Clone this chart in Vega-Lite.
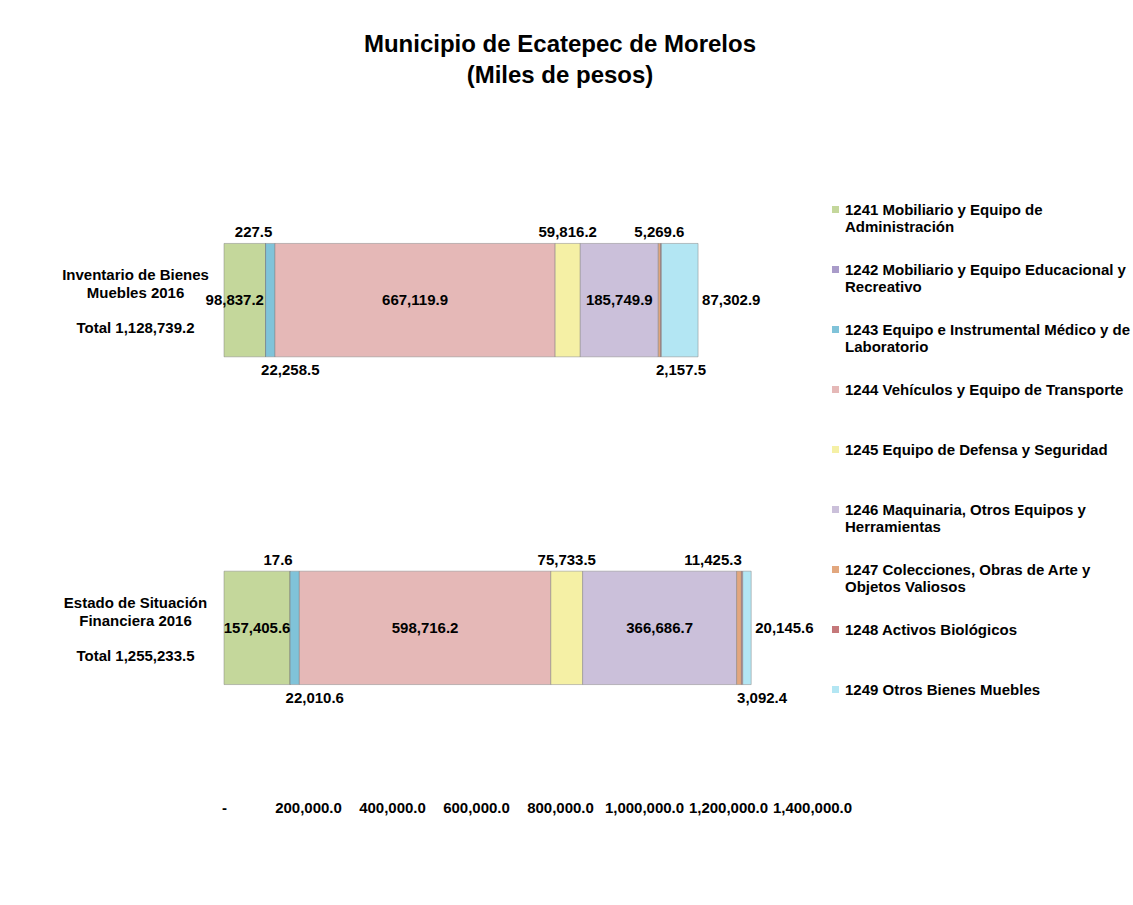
{
  "$schema": "https://vega.github.io/schema/vega-lite/v6.json",
  "width": 588,
  "height": 652,
  "autosize": {"type": "none"},
  "padding": {"left": 224, "top": 138, "right": 321, "bottom": 115},
  "background": "white",
  "title": {
    "text": ["Municipio de Ecatepec de Morelos", "(Miles de pesos)"],
    "fontSize": 24, "fontWeight": "bold", "font": "Liberation Sans", "lineHeight": 31,
    "anchor": "middle", "frame": "group", "dx": 42, "offset": 50, "color": "#000000"
  },
  "data": {
    "values": [
      {"barra": "Inventario de Bienes|Muebles 2016|\u200b|Total 1,128,739.2", "codigo": "1241", "categoria": "1241 Mobiliario y Equipo de|Administración", "valor": 98837.2},
      {"barra": "Inventario de Bienes|Muebles 2016|\u200b|Total 1,128,739.2", "codigo": "1242", "categoria": "1242 Mobiliario y Equipo Educacional y|Recreativo", "valor": 227.5},
      {"barra": "Inventario de Bienes|Muebles 2016|\u200b|Total 1,128,739.2", "codigo": "1243", "categoria": "1243 Equipo e Instrumental Médico y de|Laboratorio", "valor": 22258.5},
      {"barra": "Inventario de Bienes|Muebles 2016|\u200b|Total 1,128,739.2", "codigo": "1244", "categoria": "1244 Vehículos y Equipo de Transporte|", "valor": 667119.9},
      {"barra": "Inventario de Bienes|Muebles 2016|\u200b|Total 1,128,739.2", "codigo": "1245", "categoria": "1245 Equipo de Defensa y Seguridad|", "valor": 59816.2},
      {"barra": "Inventario de Bienes|Muebles 2016|\u200b|Total 1,128,739.2", "codigo": "1246", "categoria": "1246 Maquinaria, Otros Equipos y|Herramientas", "valor": 185749.9},
      {"barra": "Inventario de Bienes|Muebles 2016|\u200b|Total 1,128,739.2", "codigo": "1247", "categoria": "1247 Colecciones, Obras de Arte y|Objetos Valiosos", "valor": 5269.6},
      {"barra": "Inventario de Bienes|Muebles 2016|\u200b|Total 1,128,739.2", "codigo": "1248", "categoria": "1248 Activos Biológicos|", "valor": 2157.5},
      {"barra": "Inventario de Bienes|Muebles 2016|\u200b|Total 1,128,739.2", "codigo": "1249", "categoria": "1249 Otros Bienes Muebles|", "valor": 87302.9},
      {"barra": "Estado de Situación|Financiera 2016|\u200b|Total  1,255,233.5", "codigo": "1241", "categoria": "1241 Mobiliario y Equipo de|Administración", "valor": 157405.6},
      {"barra": "Estado de Situación|Financiera 2016|\u200b|Total  1,255,233.5", "codigo": "1242", "categoria": "1242 Mobiliario y Equipo Educacional y|Recreativo", "valor": 17.6},
      {"barra": "Estado de Situación|Financiera 2016|\u200b|Total  1,255,233.5", "codigo": "1243", "categoria": "1243 Equipo e Instrumental Médico y de|Laboratorio", "valor": 22010.6},
      {"barra": "Estado de Situación|Financiera 2016|\u200b|Total  1,255,233.5", "codigo": "1244", "categoria": "1244 Vehículos y Equipo de Transporte|", "valor": 598716.2},
      {"barra": "Estado de Situación|Financiera 2016|\u200b|Total  1,255,233.5", "codigo": "1245", "categoria": "1245 Equipo de Defensa y Seguridad|", "valor": 75733.5},
      {"barra": "Estado de Situación|Financiera 2016|\u200b|Total  1,255,233.5", "codigo": "1246", "categoria": "1246 Maquinaria, Otros Equipos y|Herramientas", "valor": 366686.7},
      {"barra": "Estado de Situación|Financiera 2016|\u200b|Total  1,255,233.5", "codigo": "1247", "categoria": "1247 Colecciones, Obras de Arte y|Objetos Valiosos", "valor": 11425.3},
      {"barra": "Estado de Situación|Financiera 2016|\u200b|Total  1,255,233.5", "codigo": "1248", "categoria": "1248 Activos Biológicos|", "valor": 3092.4},
      {"barra": "Estado de Situación|Financiera 2016|\u200b|Total  1,255,233.5", "codigo": "1249", "categoria": "1249 Otros Bienes Muebles|", "valor": 20145.6}
    ]
  },
  "encoding": {
    "y": {
      "field": "barra", "type": "nominal", "sort": null,
      "scale": {"paddingInner": 0.654, "paddingOuter": 0.3217},
      "axis": {
        "title": null, "domain": false, "ticks": false, "tickSize": 0, "grid": false,
        "labelAlign": "center", "labelBaseline": "middle", "labelPadding": 89,
        "labelOffset": -25,
        "labelFontSize": 15, "labelFontWeight": "bold", "labelColor": "#000000",
        "labelLineHeight": 17.7, "labelLimit": 300,
        "labelExpr": "split(datum.label, '|')"
      }
    }
  },
  "layer": [
    {
      "mark": {"type": "bar", "stroke": "#7a7a7a", "strokeOpacity": 0.45, "strokeWidth": 1},
      "encoding": {
        "x": {
          "field": "valor", "type": "quantitative", "stack": "zero",
          "scale": {"domain": [0, 1400000], "nice": false, "zero": true},
          "axis": {
            "title": null, "domain": false, "ticks": false, "tickSize": 0, "grid": false,
            "values": [0, 200000, 400000, 600000, 800000, 1000000, 1200000, 1400000],
            "labelExpr": "datum.value == 0 ? '-' : format(datum.value, ',.1f')",
            "labelFontSize": 15, "labelFontWeight": "bold", "labelColor": "#000000",
            "labelPadding": 10, "labelOverlap": false, "labelFlush": false
          }
        },
        "color": {
          "field": "categoria", "type": "nominal",
          "scale": {
            "range": ["#C4D79B", "#A99BC9", "#80C3D9", "#E5B8B7", "#F5F0A5", "#CBC0DA", "#E2A77E", "#C5787A", "#B3E6F3"]
          },
          "legend": {
            "title": null, "orient": "none", "legendX": 604, "legendY": 64,
            "symbolType": "square", "symbolSize": 49, "symbolStrokeWidth": 0,
            "labelFontSize": 15, "labelFontWeight": "bold", "labelFont": "Liberation Sans",
            "labelColor": "#000000", "labelLimit": 400, "labelOffset": 2,
            "rowPadding": 27, "padding": 0,
            "labelExpr": "split(datum.label, '|')",
            "encode": {"labels": {"update": {"lineHeight": {"value": 17}, "dy": {"value": 8.5}}}}
          }
        },
        "order": {"field": "codigo", "type": "ordinal"}
      }
    },
    {
      "mark": {"type": "text", "align": "center", "baseline": "middle"},
      "encoding": {
        "x": {"field": "valor", "type": "quantitative", "stack": "zero", "bandPosition": 0.5},
        "detail": {"field": "codigo"},
        "order": {"field": "codigo", "type": "ordinal"},
        "text": {"condition": {"test": "datum.codigo == '1244' || datum.codigo == '1246' || (datum.codigo == '1241' && indexof(datum.barra, 'Estado') == 0)", "field": "valor", "type": "quantitative", "format": ",.1f"}, "value": ""}
      }
    },
    {
      "mark": {"type": "text", "align": "center", "baseline": "middle", "dx": -10},
      "encoding": {
        "x": {"field": "valor", "type": "quantitative", "stack": "zero", "bandPosition": 0.5},
        "detail": {"field": "codigo"},
        "order": {"field": "codigo", "type": "ordinal"},
        "text": {"condition": {"test": "datum.codigo == '1241' && indexof(datum.barra, 'Inventario') == 0", "field": "valor", "type": "quantitative", "format": ",.1f"}, "value": ""}
      }
    },
    {
      "mark": {"type": "text", "align": "center", "baseline": "middle", "dy": -11},
      "encoding": {
        "x": {"field": "valor", "type": "quantitative", "stack": "zero", "bandPosition": 0.5},
        "y": {"field": "barra", "type": "nominal", "sort": null, "bandPosition": 0},
        "detail": {"field": "codigo"},
        "order": {"field": "codigo", "type": "ordinal"},
        "text": {"condition": {"test": "datum.codigo == '1245' || (datum.codigo == '1247' && indexof(datum.barra, 'Inventario') == 0)", "field": "valor", "type": "quantitative", "format": ",.1f"}, "value": ""}
      }
    },
    {
      "mark": {"type": "text", "align": "center", "baseline": "middle", "dy": -11, "dx": -12},
      "encoding": {
        "x": {"field": "valor", "type": "quantitative", "stack": "zero", "bandPosition": 0.5},
        "y": {"field": "barra", "type": "nominal", "sort": null, "bandPosition": 0},
        "detail": {"field": "codigo"},
        "order": {"field": "codigo", "type": "ordinal"},
        "text": {"condition": {"test": "datum.codigo == '1242'", "field": "valor", "type": "quantitative", "format": ",.1f"}, "value": ""}
      }
    },
    {
      "mark": {"type": "text", "align": "center", "baseline": "middle", "dy": -11, "dx": -26},
      "encoding": {
        "x": {"field": "valor", "type": "quantitative", "stack": "zero", "bandPosition": 0.5},
        "y": {"field": "barra", "type": "nominal", "sort": null, "bandPosition": 0},
        "detail": {"field": "codigo"},
        "order": {"field": "codigo", "type": "ordinal"},
        "text": {"condition": {"test": "datum.codigo == '1247' && indexof(datum.barra, 'Estado') == 0", "field": "valor", "type": "quantitative", "format": ",.1f"}, "value": ""}
      }
    },
    {
      "mark": {"type": "text", "align": "center", "baseline": "middle", "dy": 13, "dx": 20},
      "encoding": {
        "x": {"field": "valor", "type": "quantitative", "stack": "zero", "bandPosition": 0.5},
        "y": {"field": "barra", "type": "nominal", "sort": null, "bandPosition": 1},
        "detail": {"field": "codigo"},
        "order": {"field": "codigo", "type": "ordinal"},
        "text": {"condition": {"test": "datum.codigo == '1243' || datum.codigo == '1248'", "field": "valor", "type": "quantitative", "format": ",.1f"}, "value": ""}
      }
    },
    {
      "mark": {"type": "text", "align": "left", "baseline": "middle", "dx": 4},
      "encoding": {
        "x": {"field": "valor", "type": "quantitative", "stack": "zero", "bandPosition": 1},
        "detail": {"field": "codigo"},
        "order": {"field": "codigo", "type": "ordinal"},
        "text": {"condition": {"test": "datum.codigo == '1249'", "field": "valor", "type": "quantitative", "format": ",.1f"}, "value": ""}
      }
    }
  ],
  "config": {
    "font": "Liberation Sans",
    "view": {"stroke": null},
    "axis": {"labelFont": "Liberation Sans"},
    "text": {"font": "Liberation Sans", "fontSize": 15, "fontWeight": "bold", "color": "#000000"}
  }
}
